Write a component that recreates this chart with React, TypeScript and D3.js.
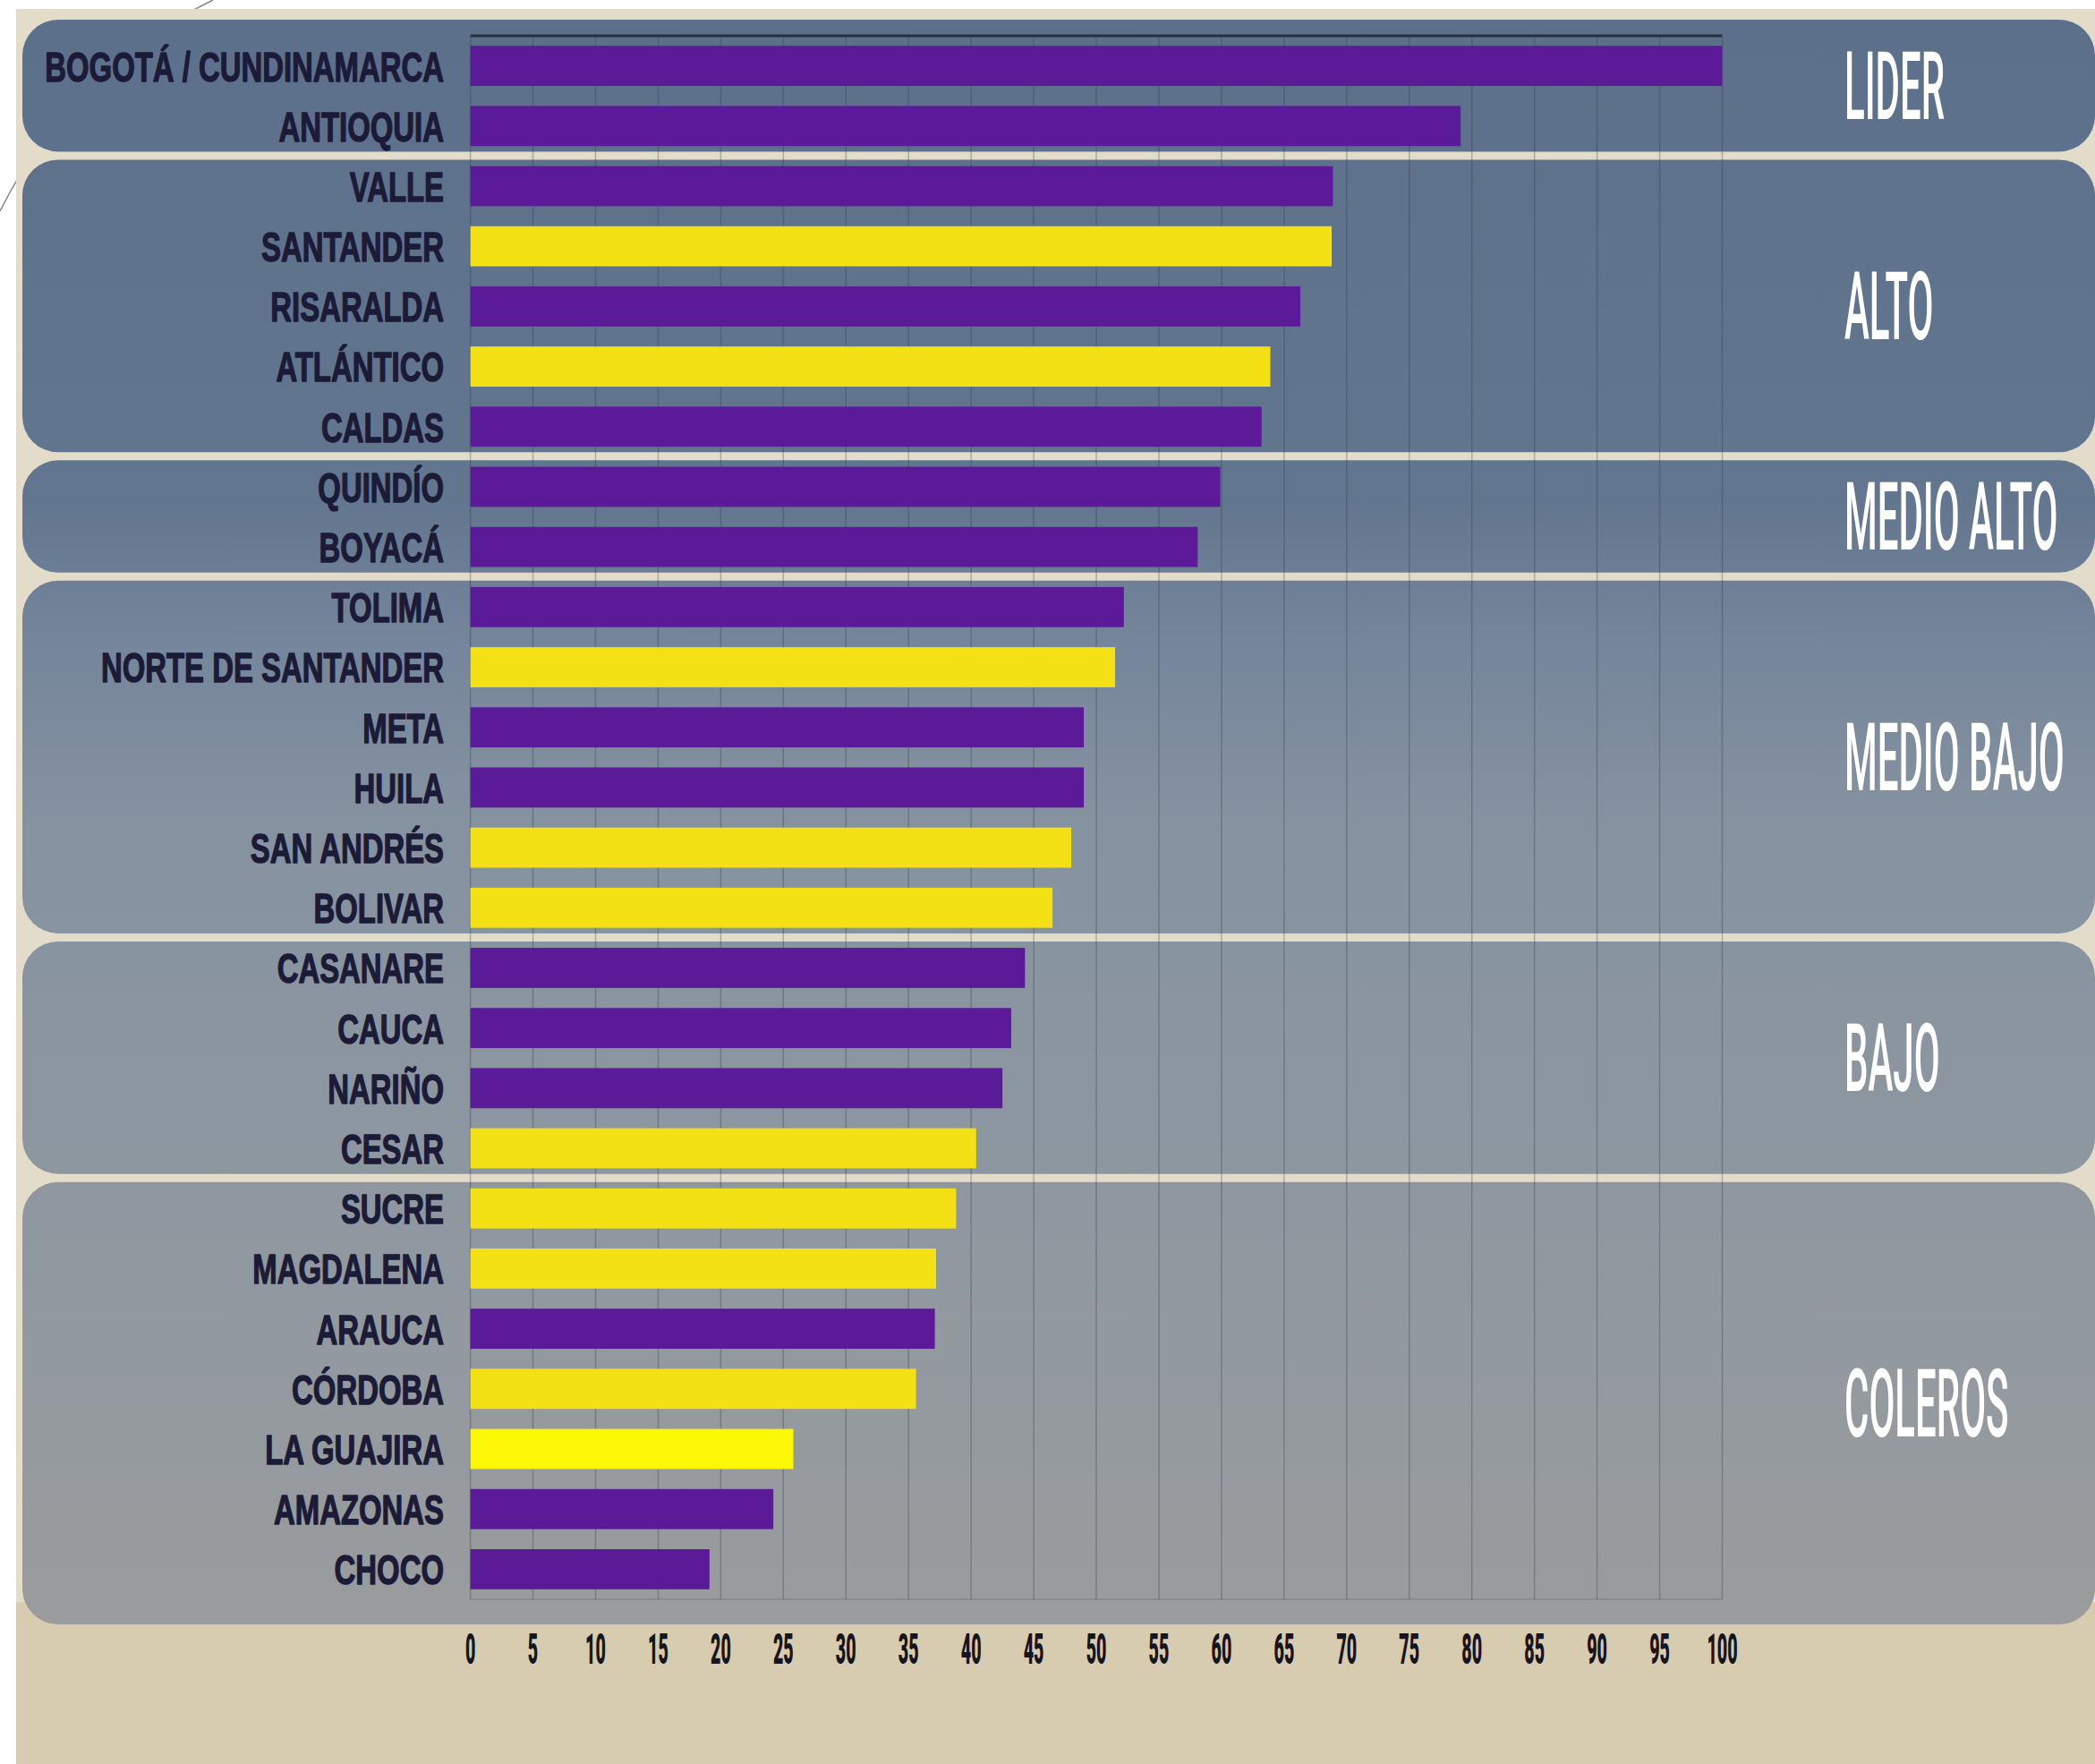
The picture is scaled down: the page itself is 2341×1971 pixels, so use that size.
import React from "react";
import * as d3 from "d3";

const categories = [
  "BOGOTÁ / CUNDINAMARCA", "ANTIOQUIA", "VALLE", "SANTANDER", "RISARALDA", "ATLÁNTICO", "CALDAS",
  "QUINDÍO", "BOYACÁ", "TOLIMA", "NORTE DE SANTANDER", "META", "HUILA", "SAN ANDRÉS", "BOLIVAR",
  "CASANARE", "CAUCA", "NARIÑO", "CESAR", "SUCRE", "MAGDALENA", "ARAUCA", "CÓRDOBA", "LA GUAJIRA",
  "AMAZONAS", "CHOCO",
];
const values = [
  100, 79.1, 68.9, 68.8, 66.3, 63.9, 63.2,
  59.9, 58.1, 52.2, 51.5, 49.0, 49.0, 48.0, 46.5,
  44.3, 43.2, 42.5, 40.4, 38.8, 37.2, 37.1, 35.6, 25.8,
  24.2, 19.1,
];
// colour class of each bar: P = purple, Y = yellow, B = bright yellow
const colorClass = [
  "P", "P", "P", "Y", "P", "Y", "P",
  "P", "P", "P", "Y", "P", "P", "Y", "Y",
  "P", "P", "P", "Y", "Y", "Y", "P", "Y", "B",
  "P", "P",
];
const groupNames = ["LIDER", "ALTO", "MEDIO ALTO", "MEDIO BAJO", "BAJO", "COLEROS"];
const groupSizes = [2, 5, 2, 6, 4, 7];
const tickValues = [0, 5, 10, 15, 20, 25, 30, 35, 40, 45, 50, 55, 60, 65, 70, 75, 80, 85, 90, 95, 100];

const W = 2341;
const H = 1971;
const barColors: Record<string, string> = { P: "#5b1b98", Y: "#f3e116", B: "#fbf705" };

export default function App() {
  const x = d3.scaleLinear().domain([0, 100]).range([525.6, 1924.5]);
  const y = d3.scaleBand<string>().domain(categories).range([40, 1787]).paddingInner(0.333).paddingOuter(0.1667);
  const step = y.step();
  const gapHalf = (step - y.bandwidth()) / 2;

  let start = 0;
  const panels = groupNames.map((name, gi) => {
    const first = start;
    const last = start + groupSizes[gi] - 1;
    start += groupSizes[gi];
    const top = gi === 0 ? 22 : (y(categories[first]) as number) - gapHalf + 4;
    const bottom = gi === groupNames.length - 1 ? 1815 : (y(categories[last]) as number) + y.bandwidth() + gapHalf - 5;
    return { name, top, bottom };
  });

  const gridTop = 40;
  const gridBottom = 1787;

  return (
    <svg width={W} height={H} style={{ position: "absolute", left: 0, top: 0 }} xmlns="http://www.w3.org/2000/svg">
      <defs>
        <linearGradient id="panelGrad" gradientUnits="userSpaceOnUse" x1={0} y1={22} x2={0} y2={1815}>
          <stop offset="0" stopColor="#5d708b" />
          <stop offset="0.3" stopColor="#63768f" />
          <stop offset="0.38" stopColor="#74859a" />
          <stop offset="0.5" stopColor="#8592a0" />
          <stop offset="0.75" stopColor="#8f98a0" />
          <stop offset="1" stopColor="#9a9c9d" />
        </linearGradient>
      </defs>
      <rect x={0} y={0} width={W} height={H} fill="#ffffff" />
      <path d="M 0 236 A 520 520 0 0 1 238 0" fill="none" stroke="#8a8a8a" strokeWidth={1.6} />
      <rect x={18} y={10} width={W - 18} height={H - 10} fill="#d8ccb0" />
      <rect x={18} y={10} width={W - 18} height={1780} fill="#e3dccb" />

      {panels.map((p) => (
        <rect key={p.name} x={25} y={p.top} width={W - 25} height={p.bottom - p.top} rx={40} ry={40} fill="url(#panelGrad)" />
      ))}

      {/* gridlines */}
      {tickValues.map((t) => (
        <line key={"g" + t} x1={x(t)} x2={x(t)} y1={gridTop} y2={gridBottom} stroke="#2e3440" strokeOpacity={0.3} strokeWidth={1.5} />
      ))}
      <line x1={x(0)} x2={x(100)} y1={gridTop} y2={gridTop} stroke="#27303c" strokeWidth={3} />
      <line x1={x(0)} x2={x(100)} y1={gridBottom} y2={gridBottom} stroke="#2e3440" strokeOpacity={0.2} strokeWidth={1.5} />

      {/* bars */}
      {categories.map((c, i) => (
        <rect key={c} x={x(0)} y={y(c)} width={x(values[i]) - x(0)} height={y.bandwidth()} fill={barColors[colorClass[i]]} />
      ))}

      {/* category labels */}
      {categories.map((c) => (
        <g key={"l" + c} transform={`translate(496, ${(y(c) as number) + y.bandwidth() / 2}) scale(0.7, 1)`}>
          <text textAnchor="end" dy="0.36em" fontFamily="'Liberation Sans', Arial, sans-serif" fontWeight={700} fontSize={47}
            fill="#1b1b38" stroke="#1b1b38" strokeWidth={1.4} strokeLinejoin="round">
            {c}
          </text>
        </g>
      ))}

      {/* group labels */}
      {panels.map((p) => (
        <g key={"gl" + p.name} transform={`translate(2061, ${(p.top + p.bottom) / 2}) scale(0.4, 1)`}>
          <text dy="0.355em" fontFamily="Roboto, sans-serif" fontWeight={500} fontSize={105} fill="#ffffff">
            {p.name}
          </text>
        </g>
      ))}

      {/* tick labels */}
      {tickValues.map((t) => (
        <g key={"t" + t} transform={`translate(${x(t)}, 1859) scale(0.41, 1)`}>
          <text textAnchor="middle" fontFamily="Roboto, sans-serif" fontWeight={900} fontSize={48} fill="#15151f">
            {t}
          </text>
        </g>
      ))}
    </svg>
  );
}
